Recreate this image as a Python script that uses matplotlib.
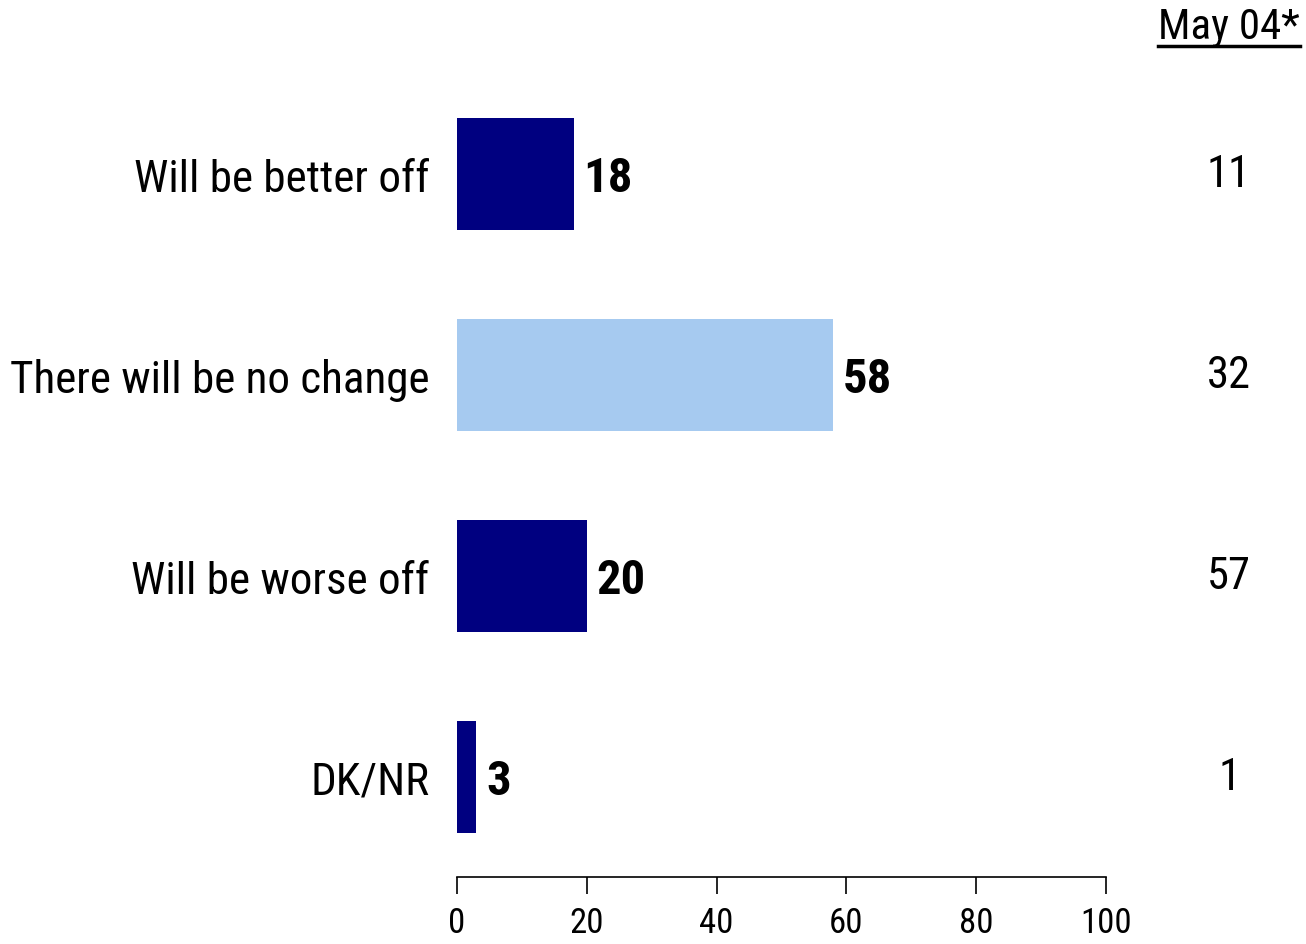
import matplotlib
matplotlib.use('Agg')
import matplotlib.pyplot as plt

# データ
categories = ['Will be better off', 'There will be no change', 'Will be worse off', 'DK/NR']
values = [18, 58, 20, 3]
prev_values = [11, 32, 57, 1]
prev_label = 'May 04*'
bar_colors = ['#000080', '#A6CAF0', '#000080', '#000080']
ticks = [0, 20, 40, 60, 80, 100]

# Arial Narrow 風のフォント（無ければ順に代替）
plt.rcParams['font.family'] = ['Roboto Condensed', 'Archivo Narrow',
                               'Liberation Sans', 'DejaVu Sans']

W, H = 1306, 945
fig = plt.figure(figsize=(W / 100, H / 100), dpi=100)
fig.patch.set_facecolor('white')

# axes 位置（ピクセルから換算）
x0, x1 = 457, 1106
y_top, y_bot = 74.5, 878
ax = fig.add_axes([x0 / W, 1 - y_bot / H, (x1 - x0) / W, (y_bot - y_top) / H])

pos = list(range(len(categories)))
ax.barh(pos, values, height=0.557, color=bar_colors, edgecolor='none')
ax.set_xlim(0, 100)
ax.set_ylim(3 + 100 / 201, -0.5)

for p, v in zip(pos, values):
    ax.text(v + 1.5, p + 0.02, str(v), ha='left', va='center',
            fontsize=35, fontweight='bold', color='black')

# 左のカテゴリラベル
ax.set_yticks(pos)
ax.set_yticklabels(categories, fontsize=32.5)
ax.tick_params(axis='y', length=0, pad=20)

# x 軸
ax.set_xticks(ticks)
ax.set_xticklabels([str(t) for t in ticks], fontsize=25)
ax.tick_params(axis='x', length=12, width=1.2, pad=9, direction='out')
for s in ['top', 'right', 'left']:
    ax.spines[s].set_visible(False)
ax.spines['bottom'].set_linewidth(1.2)

# 右側の前回値
xr = 1229 / W
for p, v in zip(pos, prev_values):
    yp = 175 + p * 201
    fig.text(xr, 1 - yp / H, str(v), ha='center', va='center', fontsize=32)

t = fig.text(xr, 1 - 28 / H, prev_label, ha='center', va='center', fontsize=31)
fig.canvas.draw()
bb = t.get_window_extent()
fig.add_artist(plt.Line2D([bb.x0 / W, bb.x1 / W], [1 - 47 / H, 1 - 47 / H],
                          transform=fig.transFigure, color='black', lw=2.5))

plt.savefig('out.png', dpi=100, facecolor='white')
